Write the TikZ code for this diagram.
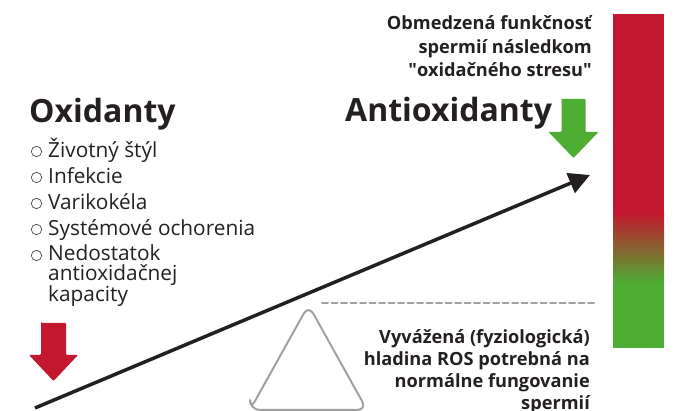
\documentclass[tikz,border=0pt]{standalone}
\usepackage{fontspec}
\setmainfont{Open Sans}
\usepackage{tkz-euclide}
\usetikzlibrary{arrows.meta,calc}
\definecolor{RedClr}{rgb}{0.765,0.09,0.184}
\definecolor{GreenClr}{rgb}{0.302,0.682,0.2}
\definecolor{BrownClr}{rgb}{0.65,0.46,0.23}
\definecolor{GrayClr}{rgb}{0.63,0.63,0.63}
\definecolor{TextClr}{rgb}{0.14,0.12,0.13}

\begin{document}
\begin{tikzpicture}[x=1pt,y=1pt,
  title/.style={inner sep=0pt,text=TextClr,font=\bfseries\fontsize{32}{36}\selectfont},
  item/.style={inner sep=0pt,anchor=base west,text=TextClr,font=\fontsize{20.8}{19.5}\selectfont,align=left},
  note/.style={inner sep=0pt,anchor=base east,text=TextClr,align=right,font=\bfseries\fontsize{18.2}{23.5}\selectfont},
  bullet/.style={draw=TextClr!80,line width=0.7pt}]
\useasboundingbox (0,0) rectangle (674,411);

\tkzDefPoints{35/3/L,590/236/H,322/108/D1,595/108/D2}
\tkzDefPoints{250/1/T1,367/1/T2,308.5/106/T3}
\tkzDefPoints{41/88/R1,66/88/R2,66/56/R3,78/56/R4,53.5/30/R5,29/56/R6,41/56/R7}
\tkzDefPoints{561.5/312/G1,585.5/312/G2,585.5/279/G3,598.5/279/G4,573.5/253/G5,548.5/279/G6,561.5/279/G7}

% colour bar
\fill[RedClr] (613,397) rectangle (664,198);
\shade[top color=RedClr,middle color=BrownClr,bottom color=GreenClr] (613,198.5) rectangle (664,127.5);
\fill[GreenClr] (613,128) rectangle (664,63);

% balance
\tkzDrawSegments[line width=2pt,color=GrayClr,dash pattern=on 6pt off 3.5pt](D1,D2)
\tkzDrawPolygon[line width=2pt,color=GrayClr,rounded corners=10pt](T1,T2,T3)
\draw[line width=3.5pt,color=TextClr,-{Triangle[length=21pt,width=21pt]}] (L) -- (H);

% arrows
\tkzFillPolygon[fill=RedClr,rounded corners=1pt](R1,R2,R3,R4,R5,R6,R7)
\tkzFillPolygon[fill=GreenClr,rounded corners=1pt](G1,G2,G3,G4,G5,G6,G7)

\node[title,anchor=base west] (oxi) at (29,288) {Oxidanty};
\node[title,anchor=base west] (anti) at (345,289) {Antioxidanty};

\node[item] (i1) at (48,253) {Životný štýl};
\node[item] (i2) at (48,227) {Infekcie};
\node[item] (i3) at (48,201) {Varikokéla};
\node[item] (i4) at (48,175) {Systémové ochorenia};
\node[item] (i5) at (48,109) {Nedostatok\\antioxidačnej\\kapacity};
\foreach \yy in {253,227,201,175,149}
  \draw[bullet] (36.5,\yy+6.5) circle (5.2pt);

\node[note] (stress) at (592,334) {Obmedzená funkčnosť\\spermií následkom\\\textquotedbl oxidačného stresu\textquotedbl};
\node[note,font=\bfseries\fontsize{18.2}{22}\selectfont] (ros) at (590,1) {Vyvážená (fyziologická)\\hladina ROS potrebná na\\normálne fungovanie\\spermií};

\end{tikzpicture}
\end{document}
